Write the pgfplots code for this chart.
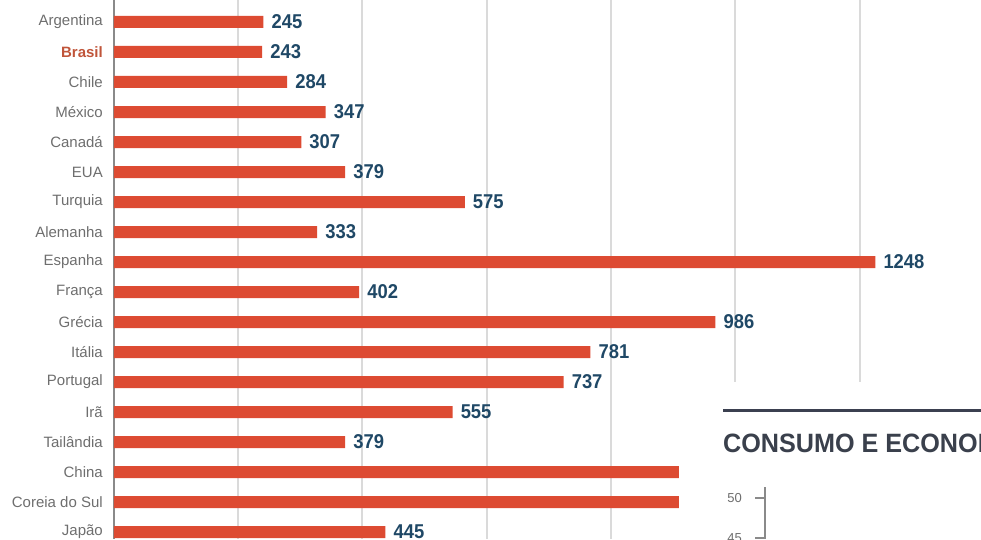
\documentclass[border=0pt]{standalone}
\usepackage{pgfplots}
\pgfplotsset{compat=1.18}
\usepackage{pgfplotstable}
\usepackage{fontspec}
\setmainfont{Liberation Sans}
\newfontfamily\valfont[FakeStretch=0.92]{Liberation Sans}
\newfontfamily\titlefont[FakeStretch=0.95]{Liberation Sans}
\definecolor{barred}{HTML}{DD4B32}
\definecolor{valblue}{HTML}{1F4866}
\definecolor{catgray}{HTML}{6E6E6E}
\definecolor{brasil}{HTML}{C0553A}
\definecolor{gridgray}{HTML}{DADADA}
\definecolor{axisgray}{HTML}{8A8A8A}
\definecolor{darkline}{HTML}{3B4050}
\definecolor{titlegray}{HTML}{3A404C}
\pgfplotstableread{
i v
0 245
1 243
2 284
3 347
4 307
5 379
6 575
7 333
8 1248
9 402
10 986
11 781
12 737
13 555
14 379
15 1180
16 1120
17 445
}\datatable
\begin{document}
\begin{tikzpicture}[x=1pt,y=1pt]
\path[use as bounding box] (-114,0) rectangle (867,539);
\clip (-114,0) rectangle (867,539);
\begin{axis}[
  at={(0,0)}, anchor=south west,
  scale only axis, width=867pt, height=539pt,
  xmin=0, xmax=1421.3, ymin=-0.733, ymax=17.233, y dir=reverse,
  enlargelimits=false,
  xbar, bar width=12pt, bar shift=0pt,
  axis lines=left, axis line style={-},
  x axis line style={draw=none},
  y axis line style={draw=axisgray, line width=1.5pt},
  xtick={203.3,406.6,611.5,814.8,1018,1223}, xticklabels={},
  xmajorgrids, grid style={draw=gridgray, line width=1.5pt},
  major tick length=0pt,
  ytick={0,...,17},
  yticklabels={Argentina,{\textbf{\textcolor{brasil}{Brasil}}},Chile,México,Canadá,EUA,Turquia,Alemanha,Espanha,França,Grécia,Itália,Portugal,Irã,Tailândia,China,Coreia do Sul,Japão},
  yticklabel style={anchor=east, inner sep=0pt, xshift=-11pt, font=\fontsize{15}{15}\selectfont, text=catgray},
  point meta=explicit symbolic,
  nodes near coords,
  nodes near coords style={anchor=west, inner sep=0pt, xshift=8pt, font=\valfont\bfseries\fontsize{20}{20}\selectfont, text=valblue},
]
\addplot[fill=barred, draw=none] table[x=v, y=i, meta=v] {\datatable};
\end{axis}
\fill[white] (565,0) rectangle (867,84);
\fill[white] (599,0) rectangle (867,157);
\fill[darkline] (609,127.5) rectangle (867,130.5);
\node[anchor=west, inner sep=0pt, font=\titlefont\bfseries\fontsize{26.5}{26.5}\selectfont, text=titlegray] at (609,96) {CONSUMO E ECONOMIA};
\node[anchor=east, inner sep=0pt, font=\fontsize{13}{13}\selectfont, text=catgray] at (628,41) {50};
\draw[axisgray, line width=1.5pt] (641,41) -- (651,41);
\draw[axisgray, line width=2pt] (651,52) -- (651,0);
\node[anchor=east, inner sep=0pt, font=\fontsize{13}{13}\selectfont, text=catgray] at (628,1) {45};
\draw[axisgray, line width=1.5pt] (641,1) -- (651,1);
\end{tikzpicture}
\end{document}
